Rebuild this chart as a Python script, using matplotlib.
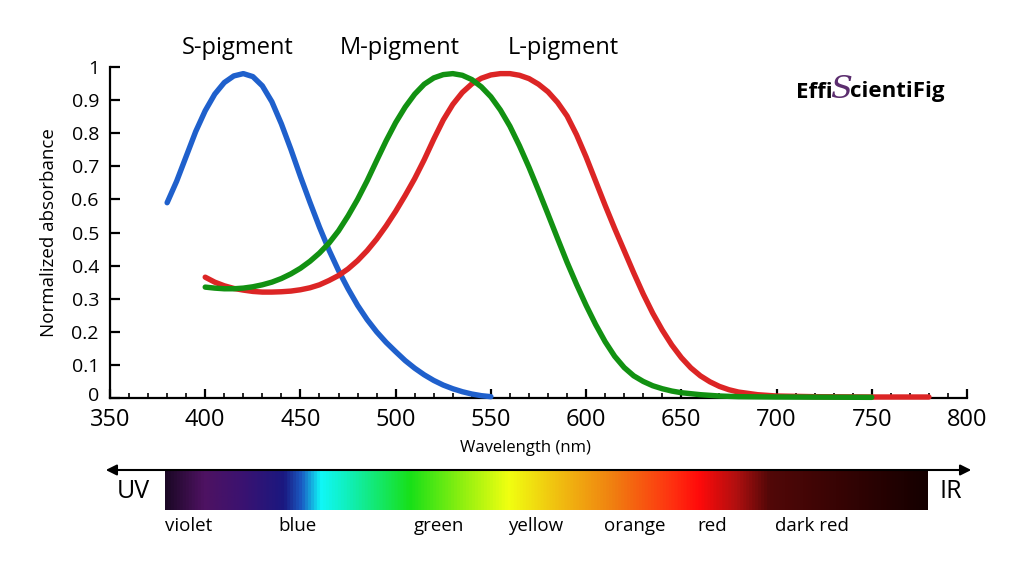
import matplotlib
matplotlib.use("Agg")
import matplotlib.pyplot as plt
from matplotlib.colors import LinearSegmentedColormap
from matplotlib.transforms import ScaledTranslation
import numpy as np

plt.rcParams['font.family'] = ['Open Sans', 'DejaVu Sans']

# absorbance curves (wavelength in nm, normalized absorbance)
s_wl = [380, 385, 390, 395, 400, 405, 410, 415, 420, 425, 430, 435, 440, 445, 450,
        455, 460, 465, 470, 475, 480, 485, 490, 495, 500, 505, 510, 515, 520, 525,
        530, 535, 540, 545, 550]
s_abs = [0.59, 0.655, 0.73, 0.805, 0.868, 0.918, 0.953, 0.973, 0.98, 0.971, 0.943,
         0.895, 0.828, 0.751, 0.669, 0.591, 0.516, 0.447, 0.385, 0.33, 0.28, 0.237,
         0.2, 0.168, 0.14, 0.113, 0.09, 0.07, 0.053, 0.039, 0.028, 0.019, 0.012,
         0.007, 0.004]

m_wl = [400, 405, 410, 415, 420, 425, 430, 435, 440, 445, 450, 455, 460, 465, 470,
        475, 480, 485, 490, 495, 500, 505, 510, 515, 520, 525, 530, 535, 540, 545,
        550, 555, 560, 565, 570, 575, 580, 585, 590, 595, 600, 605, 610, 615, 620,
        625, 630, 635, 640, 645, 650, 660, 670, 680, 700, 750]
m_abs = [0.335, 0.332, 0.33, 0.33, 0.332, 0.336, 0.342, 0.35, 0.361, 0.375, 0.392,
         0.413, 0.438, 0.468, 0.505, 0.55, 0.60, 0.656, 0.717, 0.777, 0.832, 0.879,
         0.918, 0.948, 0.967, 0.977, 0.98, 0.975, 0.962, 0.94, 0.91, 0.87, 0.821,
         0.762, 0.697, 0.627, 0.555, 0.482, 0.41, 0.343, 0.28, 0.222, 0.17, 0.126,
         0.092, 0.067, 0.05, 0.037, 0.028, 0.021, 0.016, 0.01, 0.006, 0.004,
         0.003, 0.002]

l_wl = [400, 405, 410, 415, 420, 425, 430, 435, 440, 445, 450, 455, 460, 465, 470,
        475, 480, 485, 490, 495, 500, 505, 510, 515, 520, 525, 530, 535, 540, 545,
        550, 555, 560, 565, 570, 575, 580, 585, 590, 595, 600, 605, 610, 615, 620,
        625, 630, 635, 640, 645, 650, 655, 660, 665, 670, 675, 680, 690, 700, 720,
        750, 780]
l_abs = [0.365, 0.35, 0.339, 0.331, 0.326, 0.322, 0.32, 0.32, 0.321, 0.323, 0.327,
         0.333, 0.342, 0.355, 0.37, 0.39, 0.415, 0.445, 0.48, 0.52, 0.564, 0.612,
         0.663, 0.72, 0.782, 0.84, 0.887, 0.923, 0.949, 0.966, 0.976, 0.98, 0.98,
         0.975, 0.965, 0.948, 0.925, 0.893, 0.852, 0.795, 0.728, 0.655, 0.582,
         0.512, 0.445, 0.378, 0.314, 0.256, 0.205, 0.16, 0.122, 0.091, 0.067, 0.049,
         0.035, 0.025, 0.018, 0.01, 0.006, 0.004, 0.003, 0.003]

pigment_names = ['S-pigment', 'M-pigment', 'L-pigment']
pigment_label_x = [417, 502, 588]

xticks = [350, 400, 450, 500, 550, 600, 650, 700, 750, 800]
yticks = [0, 0.1, 0.2, 0.3, 0.4, 0.5, 0.6, 0.7, 0.8, 0.9, 1]
ytick_labels = ['0', '0.1', '0.2', '0.3', '0.4', '0.5', '0.6', '0.7', '0.8', '0.9', '1']

# spectrum bar: stop position along bar, colour
spec_pos = [0.0, 0.05, 0.098, 0.155, 0.178, 0.203, 0.236, 0.321, 0.39, 0.45,
            0.514, 0.587, 0.666, 0.701, 0.75, 0.793, 0.881, 1.0]
spec_col = ['#1c0826', '#4e1262', '#3c1270', '#1a1880', '#1a5cc4', '#10f8f8',
            '#10f0c0', '#18e018', '#90f010', '#f0ff10', '#f0c010', '#f08010',
            '#ff3010', '#ff0a0a', '#b01010', '#520808', '#380404', '#150000']
color_names = ['violet', 'blue', 'green', 'yellow', 'orange', 'red', 'dark red']
color_name_x = [189, 298, 439, 536, 635, 712, 812]   # pixel centres under the bar

W, H = 1024, 576
fig = plt.figure(figsize=(W / 100, H / 100), dpi=100)
ax = fig.add_axes([110 / W, 1 - 398 / H, 857 / W, 331 / H])

style = dict(lw=3.9, solid_capstyle='round', solid_joinstyle='round', clip_on=False)
ax.plot(s_wl, s_abs, color='#1f60cc', zorder=3, **style)
ax.plot(l_wl, l_abs, color='#dc2525', zorder=3, **style)
ax.plot(m_wl, m_abs, color='#129112', zorder=4, **style)

ax.set_xlim(350, 800)
ax.set_ylim(0, 1)
ax.set_xticks(xticks)
ax.set_xticks(np.arange(350, 801, 10), minor=True)
ax.set_yticks(yticks)
ax.set_yticklabels(ytick_labels)
for side in ['top', 'right']:
    ax.spines[side].set_visible(False)
for side in ['left', 'bottom']:
    ax.spines[side].set_linewidth(1.6)
ax.tick_params(axis='x', which='major', direction='in', length=6.5, width=1.6, labelsize=17, pad=7)
ax.tick_params(axis='x', which='minor', direction='in', length=3.5, width=1.2)
ax.tick_params(axis='y', which='major', direction='in', length=7, width=1.6, labelsize=14, pad=8)
# lift the "0" label a little so it clears the x tick labels
zero_lab = ax.get_yticklabels()[0]
zero_lab.set_transform(zero_lab.get_transform() + ScaledTranslation(0, 4 / 100, fig.dpi_scale_trans))

ax.set_xlabel('Wavelength (nm)', fontsize=12)
ax.xaxis.set_label_coords((525 - 110) / 857, -(440 - 398) / 331)
ax.set_ylabel('Normalized absorbance', fontsize=13.5)
ax.yaxis.set_label_coords(-(110 - 58) / 857, 0.5)

for name, xp in zip(pigment_names, pigment_label_x):
    ax.text(xp, 1.057, name, ha='center', va='center', fontsize=17, clip_on=False)

# logo
fig.text(833 / W, 1 - 92 / H, 'Effi', ha='right', va='center', fontsize=16, fontweight='bold')
fig.text(841 / W, 1 - 90 / H, 'S', ha='center', va='center', fontsize=23, color='#5b2d6e',
         family='DejaVu Serif', style='italic')
fig.text(850 / W, 1 - 92 / H, 'cientiFig', ha='left', va='center', fontsize=16, fontweight='bold')

# spectrum bar
cmap = LinearSegmentedColormap.from_list('spec', list(zip(spec_pos, spec_col)))
bar_ax = fig.add_axes([165 / W, 1 - 510 / H, (928 - 165) / W, 40 / H])
bar_ax.imshow(np.linspace(0, 1, 512)[None, :], aspect='auto', cmap=cmap)
bar_ax.set_axis_off()

fig.patches.append(matplotlib.patches.FancyArrowPatch(
    (103 / W, 1 - 470 / H), (974 / W, 1 - 470 / H), transform=fig.transFigure,
    arrowstyle='<|-|>', mutation_scale=16, lw=1.5, color='black'))

fig.text(133 / W, 1 - 491 / H, 'UV', ha='center', va='center', fontsize=18)
fig.text(951 / W, 1 - 492 / H, 'IR', ha='center', va='center', fontsize=18)
for name, xp in zip(color_names, color_name_x):
    fig.text(xp / W, 1 - 526 / H, name, ha='center', va='center', fontsize=13.5)

fig.savefig('out.png', dpi=100)
